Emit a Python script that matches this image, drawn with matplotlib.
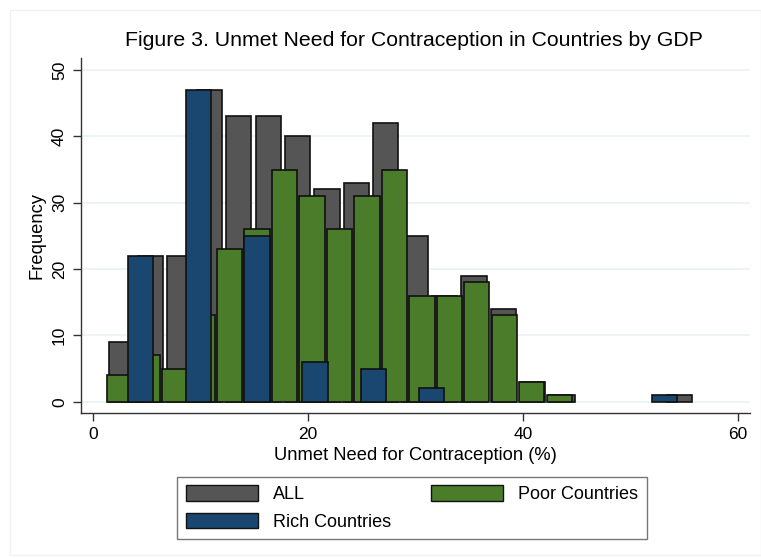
import matplotlib
matplotlib.use("Agg")
import matplotlib.pyplot as plt
from matplotlib.patches import Rectangle, Patch
import numpy as np

plt.rcParams['font.family'] = ['Liberation Sans', 'DejaVu Sans']

# Histogram bins: (first bin start, bin width) and frequency per bin
all_start, all_width = 1.23, 2.737
all_counts = [9, 22, 22, 47, 43, 43, 40, 32, 33, 42, 25, 16, 19, 14, 3, 1, 0, 0, 0, 1]

rich_start, rich_width = 1.68, 5.419
rich_counts = [22, 47, 25, 6, 5, 2, 0, 0, 0, 1]

poor_start, poor_width = 1.19, 2.557
poor_counts = [4, 7, 5, 13, 23, 26, 35, 31, 26, 31, 35, 16, 16, 18, 13, 3, 1]

bar_width = 2.36

c_all = '#555555'
c_rich = '#1a476f'
c_poor = '#4a7c2a'

x_ticks = [0, 20, 40, 60]
y_ticks = [0, 10, 20, 30, 40, 50]


def nonzero_bins(start, width, counts):
    counts = np.asarray(counts)
    mids = start + width * (np.arange(len(counts)) + 0.5)
    keep = counts > 0
    return mids[keep], counts[keep]


W, H = 761, 558
fig = plt.figure(figsize=(W / 100, H / 100), dpi=100)
fig.patch.set_facecolor('white')

# faint outer frame
fig.add_artist(Rectangle((10 / W, 3 / H), (W - 10) / W, (H - 13) / H,
                         transform=fig.transFigure, fill=False,
                         edgecolor='#f1f1f1', linewidth=1.0))

left, right, bottom, top = 81, 750, 413, 58
ax = fig.add_axes([left / W, 1 - bottom / H, (right - left) / W, (bottom - top) / H])

px_x = 10.74
px_y = 6.63
ax.set_xlim(0 - (93.3 - left) / px_x, 60 + (right - 737.7) / px_x)
ax.set_ylim(0 - (bottom - 401.7) / px_y, 50 + (70 - top) / px_y)

ax.yaxis.grid(True, color='#eaf2f3', linewidth=1.2)
ax.set_axisbelow(True)

kw = dict(width=bar_width, edgecolor='#111111', linewidth=1.2, align='center')
x, h = nonzero_bins(all_start, all_width, all_counts)
ax.bar(x, h, color=c_all, zorder=2, **kw)
x, h = nonzero_bins(poor_start, poor_width, poor_counts)
ax.bar(x, h, color=c_poor, zorder=3, **kw)
x, h = nonzero_bins(rich_start, rich_width, rich_counts)
ax.bar(x, h, color=c_rich, zorder=4, **kw)

for s in ['top', 'right']:
    ax.spines[s].set_visible(False)
for s in ['left', 'bottom']:
    ax.spines[s].set_color('#333333')
    ax.spines[s].set_linewidth(1.0)

ax.set_xticks(x_ticks)
ax.set_yticks(y_ticks)
ax.set_yticklabels([str(v) for v in y_ticks], rotation=90, va='center')
ax.tick_params(axis='both', direction='out', length=6, width=1.0, color='#333333',
               labelsize=12.5, pad=4)

ax.set_xlabel('Unmet Need for Contraception (%)', fontsize=13.2, labelpad=4)
ax.set_ylabel('Frequency', fontsize=13.2, labelpad=5)

fig.text(0.5 * (125 + 703) / W, 1 - 40 / H,
         'Figure 3. Unmet Need for Contraception in Countries by GDP',
         ha='center', va='center', fontsize=15.3)

handles = [Patch(facecolor=c_all, edgecolor='#111111', label='ALL'),
           Patch(facecolor=c_rich, edgecolor='#111111', label='Rich Countries'),
           Patch(facecolor=c_poor, edgecolor='#111111', label='Poor Countries')]
leg = fig.legend(handles=handles, ncol=2, loc='center',
                 bbox_to_anchor=(412 / W, 1 - 508 / H),
                 fontsize=13, frameon=True, fancybox=False,
                 edgecolor='#555555', handlelength=4.0, handleheight=0.95,
                 columnspacing=2.2, handletextpad=0.85, borderpad=0.45,
                 labelspacing=0.5, borderaxespad=0)
leg.get_frame().set_linewidth(1.0)

fig.savefig('out.png', dpi=100, facecolor='white')
